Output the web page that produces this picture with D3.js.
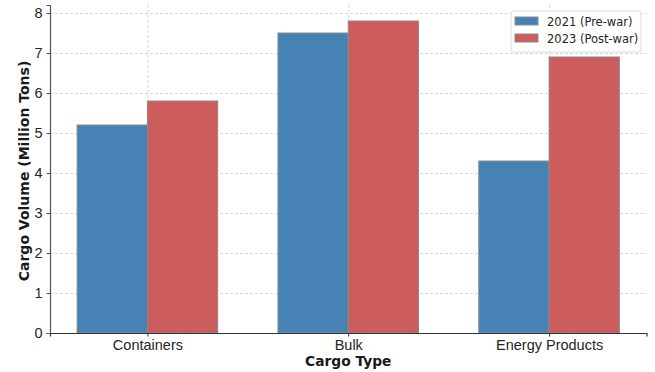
<!DOCTYPE html>
<html>
<head>
<meta charset="utf-8">
<script src="https://cdn.jsdelivr.net/npm/d3@7"></script>
<style>
    body { margin: 0; background: #fff; }
    svg { font-family: "DejaVu Sans", sans-serif; }
    .grid line { stroke: #ccc; stroke-dasharray: 3,2; stroke-width: 0.8; }
    .grid path { display: none; }
</style>
</head>
<body>
<div id="chart"></div>
<script>
const categories = ['Containers', 'Bulk', 'Energy Products'];
const seriesNames = ['2021 (Pre-war)', '2023 (Post-war)'];
const prewar = [5.2, 7.5, 4.3];
const postwar = [5.8, 7.8, 6.9];
const yTicks = [0, 1, 2, 3, 4, 5, 6, 7, 8];
const colors = ['#4682b4', '#cd5c5c'];

const width = 655;
const height = 372;
const margin = { left: 50, right: 8.5, top: 5, bottom: 39 };

const svg = d3.select('#chart').append('svg')
    .attr('width', width)
    .attr('height', height);

const plotW = width - margin.left - margin.right;
const plotH = height - margin.top - margin.bottom;

const barW = 0.35;
// matplotlib style: category index scale with 5% padding
const x = d3.scaleLinear()
    .domain([-barW - 0.135, categories.length - 1 + barW + 0.135])
    .range([margin.left, margin.left + plotW]);

const y = d3.scaleLinear()
    .domain([0, 8.2])
    .range([margin.top + plotH, margin.top]);

// grid
svg.append('g')
    .attr('class', 'grid')
    .attr('transform', `translate(${margin.left},0)`)
    .call(d3.axisLeft(y).tickValues(yTicks.slice(1)).tickSize(-plotW).tickFormat(''));

svg.append('g')
    .attr('class', 'grid')
    .attr('transform', `translate(0,${margin.top})`)
    .call(d3.axisBottom(x).tickValues(categories.map((c, i) => i)).tickSize(plotH).tickFormat(''));

const series = [prewar, postwar];
series.forEach((vals, s) => {
    svg.append('g').selectAll('rect')
        .data(vals)
        .enter().append('rect')
        .attr('x', (d, i) => x(i + (s === 0 ? -barW : 0)))
        .attr('width', x(barW) - x(0))
        .attr('y', d => y(d))
        .attr('height', d => y(0) - y(d))
        .attr('fill', colors[s])
        .attr('stroke', '#8a8a8a')
        .attr('stroke-width', 1);
});

// axes
const yAxis = svg.append('g')
    .attr('transform', `translate(${margin.left},0)`)
    .call(d3.axisLeft(y).tickValues(yTicks).tickSize(3.5).tickPadding(4));
yAxis.select('.domain').attr('stroke', '#555').attr('stroke-width', 1.2);
yAxis.selectAll('.tick line').attr('stroke', '#555');
yAxis.selectAll('text').attr('font-size', 14.5).attr('fill', '#262626');

const xAxis = svg.append('g')
    .attr('transform', `translate(0,${margin.top + plotH})`)
    .call(d3.axisBottom(x).tickValues(categories.map((c, i) => i)).tickSize(3.5).tickPadding(3)
        .tickFormat(i => categories[i]));
xAxis.select('.domain').attr('stroke', '#333').attr('stroke-width', 1.2);
xAxis.selectAll('.tick line').attr('stroke', '#333');
xAxis.selectAll('text').attr('font-size', 14.5).attr('fill', '#262626');

svg.append('text')
    .attr('x', margin.left + plotW / 2)
    .attr('y', 366)
    .attr('text-anchor', 'middle')
    .attr('font-size', 13.8)
    .attr('font-weight', 'bold')
    .attr('fill', '#1a1a1a')
    .text('Cargo Type');

svg.append('text')
    .attr('transform', `translate(29,${margin.top + plotH / 2 + 2}) rotate(-90)`)
    .attr('text-anchor', 'middle')
    .attr('font-size', 14)
    .attr('font-weight', 'bold')
    .attr('fill', '#1a1a1a')
    .text('Cargo Volume (Million Tons)');

// legend
const legend = svg.append('g').attr('transform', 'translate(511,11)');
legend.append('rect')
    .attr('width', 130)
    .attr('height', 41)
    .attr('rx', 2)
    .attr('fill', 'rgba(255,255,255,0.8)')
    .attr('stroke', '#ddd');

seriesNames.forEach((name, i) => {
    const g = legend.append('g').attr('transform', `translate(4,${5 + i * 17})`);
    g.append('rect')
        .attr('width', 23)
        .attr('height', 8)
        .attr('y', 1)
        .attr('fill', colors[i])
        .attr('stroke', '#8a8a8a');
    g.append('text')
        .attr('x', 32)
        .attr('y', 10)
        .attr('font-size', 11.5)
        .attr('fill', '#262626')
        .text(name);
});
</script>
</body>
</html>
